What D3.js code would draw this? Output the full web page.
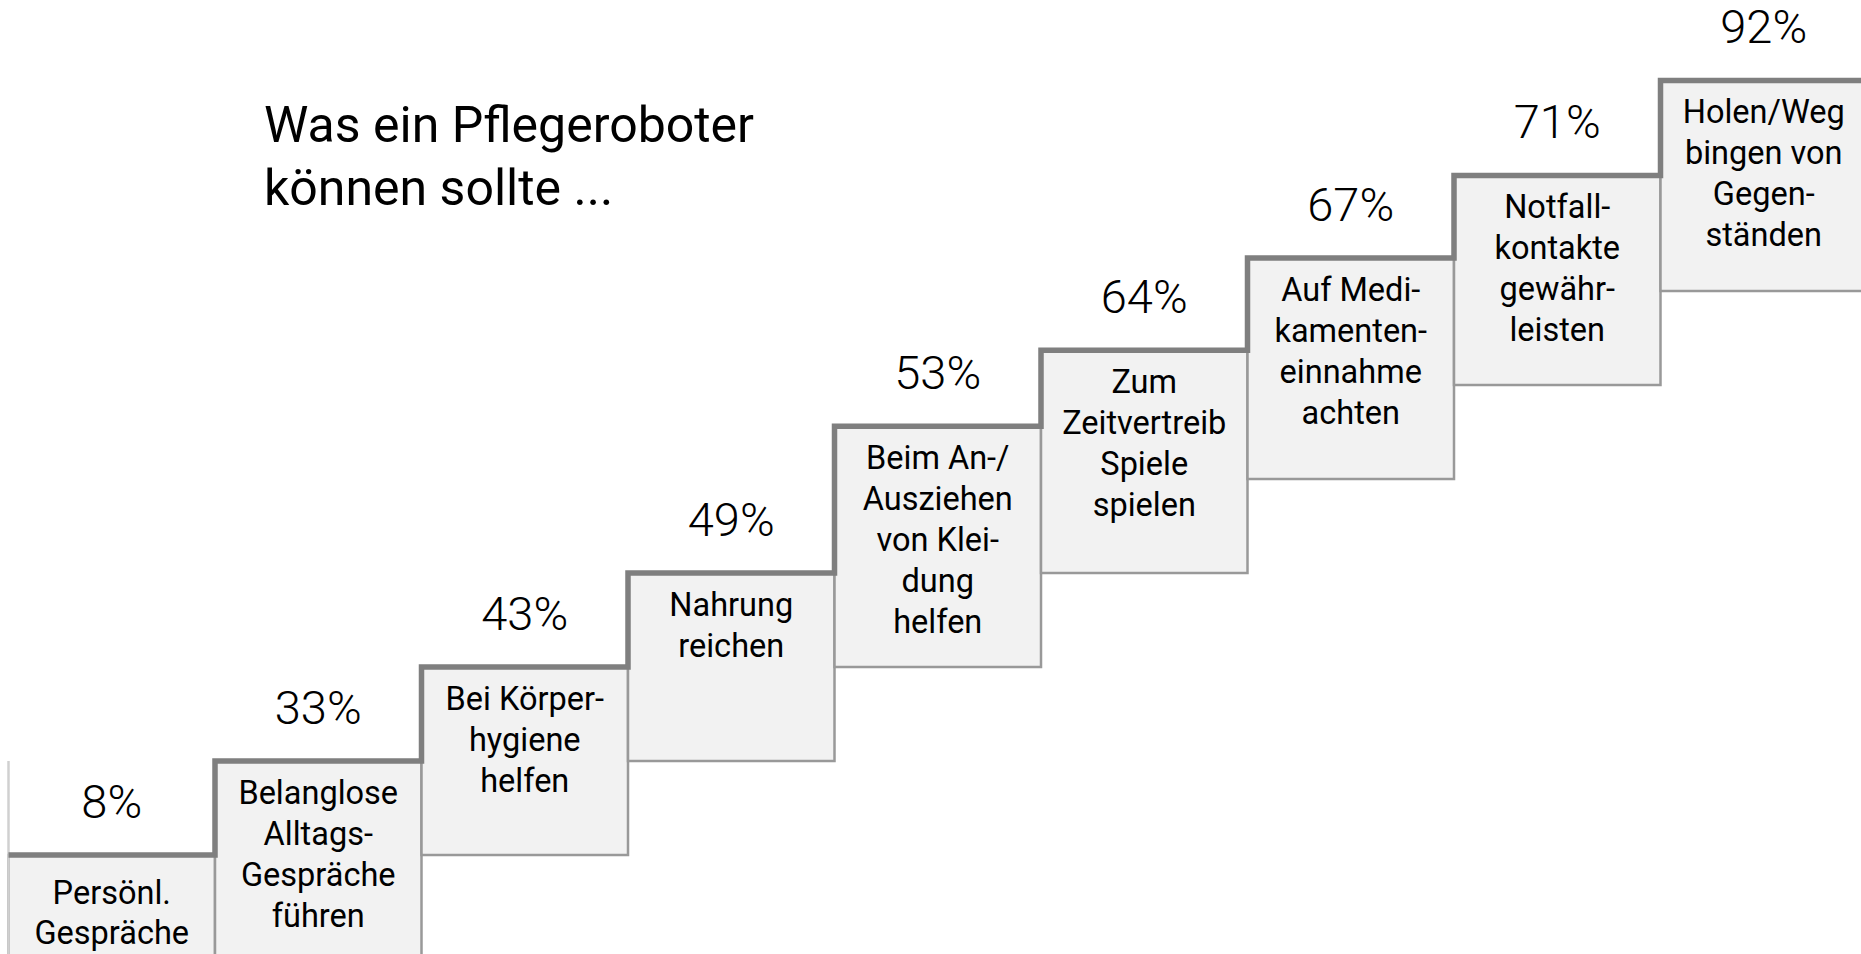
<!DOCTYPE html>
<html>
<head>
<meta charset="utf-8">
<script src="https://cdn.jsdelivr.net/npm/d3@7"></script>
<style>
  html, body { margin: 0; padding: 0; background: #fff; overflow: hidden; }
  svg { display: block; }
</style>
</head>
<body>
<svg id="chart" width="1861" height="954"></svg>
<script>
// ---- data ----
const titleLines = ["Was ein Pflegeroboter", "können sollte ..."];
const categories = [
  "Persönl. Gespräche",
  "Belanglose Alltags-Gespräche führen",
  "Bei Körperhygiene helfen",
  "Nahrung reichen",
  "Beim An-/Ausziehen von Kleidung helfen",
  "Zum Zeitvertreib Spiele spielen",
  "Auf Medikamenteneinnahme achten",
  "Notfallkontakte gewährleisten",
  "Holen/Weg bingen von Gegenständen"
];
const categoryLines = [
  ["Persönl.", "Gespräche"],
  ["Belanglose", "Alltags-", "Gespräche", "führen"],
  ["Bei Körper-", "hygiene", "helfen"],
  ["Nahrung", "reichen"],
  ["Beim An-/", "Ausziehen", "von Klei-", "dung", "helfen"],
  ["Zum", "Zeitvertreib", "Spiele", "spielen"],
  ["Auf Medi-", "kamenten-", "einnahme", "achten"],
  ["Notfall-", "kontakte", "gewähr-", "leisten"],
  ["Holen/Weg", "bingen von", "Gegen-", "ständen"]
];
const values = [8, 33, 43, 49, 53, 64, 67, 71, 92];
// height of each stair step, in "step units", as drawn in the reference
const stepLevels = [0, 1, 2, 3, 4.56, 5.37, 6.35, 7.23, 8.24];

// ---- layout ----
const W = 1861, H = 954;
const svg = d3.select("#chart");

const x = d3.scaleBand()
  .domain(d3.range(categories.length))
  .range([8.5, 8.5 + 206.5 * categories.length])
  .padding(0);
const bw = x.bandwidth();

const y = d3.scaleLinear().domain([0, 1]).range([855, 761]);

const fmt = d => d + "%";
const font = "Roboto, 'Noto Sans', sans-serif";

// title
svg.append("g").selectAll("text").data(titleLines).join("text")
  .attr("x", 264)
  .attr("y", (d, i) => 142 + i * 63)
  .attr("font-family", font)
  .attr("font-size", 50)
  .attr("fill", "#000")
  .text(d => d);

// boxes
const bottomLevel = i => (i < 2 ? -3 : i - 2);
svg.append("g").selectAll("rect").data(values).join("rect")
  .attr("x", (d, i) => x(i))
  .attr("y", (d, i) => y(stepLevels[i]))
  .attr("width", bw)
  .attr("height", (d, i) => y(bottomLevel(i)) - y(stepLevels[i]))
  .attr("fill", "#f2f2f2")
  .attr("stroke", "#999999")
  .attr("stroke-width", 2.5);

// light riser on the left of the first step
svg.append("line")
  .attr("x1", x(0)).attr("x2", x(0))
  .attr("y1", y(stepLevels[1])).attr("y2", H + 10)
  .attr("stroke", "#d0d0d0")
  .attr("stroke-width", 2.5);

// thick stair line
const pts = values.map((d, i) => [x(i), y(stepLevels[i])]);
pts.push([x(values.length - 1) + bw, y(stepLevels[values.length - 1])]);
svg.append("path")
  .attr("d", d3.line().curve(d3.curveStepAfter)(pts))
  .attr("fill", "none")
  .attr("stroke", "#7f7f7f")
  .attr("stroke-width", 5.5)
  .attr("stroke-linejoin", "miter");

// percentage labels
svg.append("g").selectAll("text").data(values).join("text")
  .attr("x", (d, i) => x(i) + bw / 2)
  .attr("y", (d, i) => y(stepLevels[i]) - 37)
  .attr("text-anchor", "middle")
  .attr("font-family", font)
  .attr("font-weight", 300)
  .attr("font-size", 47)
  .attr("fill", "#000")
  .text(fmt);

// category texts inside boxes
const cg = svg.append("g").selectAll("text").data(categoryLines).join("text")
  .attr("text-anchor", "middle")
  .attr("font-family", font)
  .attr("font-size", 32.5)
  .attr("fill", "#000");
cg.each(function(lines, i) {
  const t = d3.select(this);
  const cx = x(i) + bw / 2;
  const y0 = y(stepLevels[i]) + (i === 0 ? 49 : 43);
  const lh = i === 0 ? 40 : 41;
  t.selectAll("tspan").data(lines).join("tspan")
    .attr("x", cx)
    .attr("y", (d, k) => y0 + k * lh)
    .text(d => d);
});
</script>
</body>
</html>
